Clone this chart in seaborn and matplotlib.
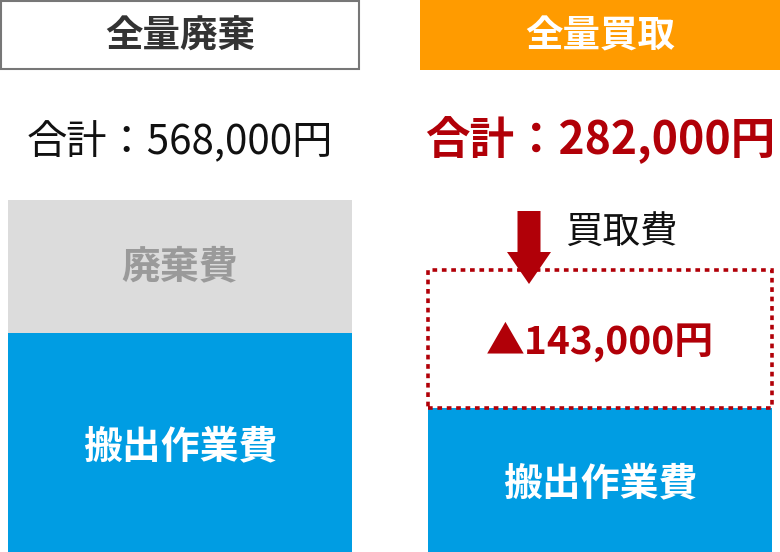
import matplotlib
matplotlib.use('Agg')
import pandas as pd
import seaborn as sns
import matplotlib.pyplot as plt
from matplotlib.patches import Rectangle, FancyArrow

# data
methods = ['全量廃棄', '全量買取']
totals_yen = [568000, 282000]
haul_labels = ['搬出作業費', '搬出作業費']
haul_height = [219, 144]        # blue part (visual height)
upper_height = [133, 138]       # 廃棄費 / 買取費 part (visual height)
upper_labels = ['廃棄費', '▲143,000円']
buy_label = '買取費'

BLUE = '#009de3'
GRAY = '#dcdcdc'
ORANGE = '#ff9b00'
RED = '#b10008'

sns.set_theme(style='white')
plt.rcParams['font.family'] = ['Noto Sans CJK JP', 'DejaVu Sans']

W, H = 780, 552
fig = plt.figure(figsize=(W / 100, H / 100), dpi=100)
ax = fig.add_axes([0, 0, 1, 1])

df = pd.DataFrame({
    'method': methods,
    'haul': haul_height,
    'total': [a + b for a, b in zip(haul_height, upper_height)],
})

bw = 344 / 420
sns.barplot(data=df, x='method', y='total', ax=ax, width=bw,
            palette=[GRAY, 'white'], hue='method', legend=False,
            edgecolor='none', saturation=1)
n_upper = len(ax.patches)
sns.barplot(data=df, x='method', y='haul', ax=ax, width=bw,
            color=BLUE, edgecolor='none', saturation=1)
for p in ax.patches[n_upper:]:
    p.set_zorder(3)

# dotted outline only around the buy-back part
box = ax.patches[1]
box.set_y(haul_height[1])
box.set_height(upper_height[1])
box.set_edgecolor(RED)
box.set_linewidth(2.6)
box.set_linestyle((0, (1.3, 1.3)))
box.set_zorder(4)

ax.set_xlim(-180 / 420, 1 + 180 / 420)
ax.set_ylim(0, H)
ax.axis('off')

# overlay in pixel coordinates for headers and labels
ov = fig.add_axes([0, 0, 1, 1], zorder=5)
ov.set_xlim(0, W)
ov.set_ylim(H, 0)
ov.axis('off')
ov.patch.set_alpha(0)

ov.add_patch(Rectangle((1, 1), 358, 68, facecolor='white', edgecolor='#777777', lw=1.5))
ov.text(180, 36, methods[0], ha='center', va='center', fontsize=27,
        fontweight='bold', color='#333333')
ov.add_patch(Rectangle((420, 0), 360, 70, facecolor=ORANGE, edgecolor='none'))
ov.text(600, 36, methods[1], ha='center', va='center', fontsize=27,
        fontweight='bold', color='white')

ov.text(180, 142, f'合計：{totals_yen[0]:,}円', ha='center', va='center',
        fontsize=29, color='#111111')
ov.text(600, 140, f'合計：{totals_yen[1]:,}円', ha='center', va='center',
        fontsize=32, fontweight='bold', color=RED)

# bar labels (centred on segments via data coords)
for i in range(2):
    ax.text(i, haul_height[i] / 2 - 4, haul_labels[i], ha='center', va='center',
            fontsize=28, fontweight='bold', color='white', zorder=6)
ax.text(0, haul_height[0] + upper_height[0] / 2, upper_labels[0], ha='center',
        va='center', fontsize=28, fontweight='bold', color='#9a9a9a', zorder=6)
ax.text(1, haul_height[1] + upper_height[1] / 2 - 3, upper_labels[1], ha='center',
        va='center', fontsize=28, fontweight='bold', color=RED, zorder=6)

# arrow and 買取費
ov.add_patch(FancyArrow(529, 211, 0, 73, width=23, head_width=44,
                        head_length=32, length_includes_head=True,
                        color=RED, lw=0))
ov.text(621, 232, buy_label, ha='center', va='center', fontsize=27, color='#111111')

fig.savefig('out.png', dpi=100)
